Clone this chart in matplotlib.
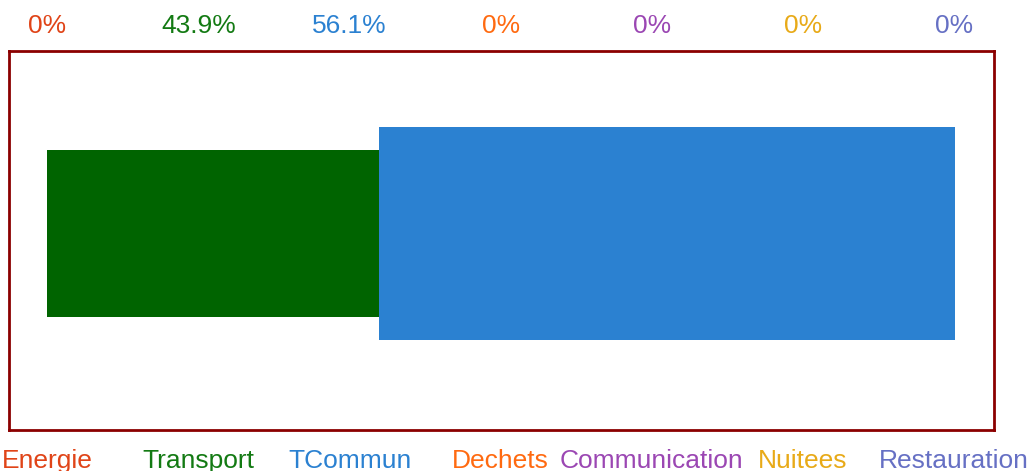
import matplotlib
matplotlib.use("Agg")
import matplotlib.pyplot as plt
import numpy as np

categories = ["Energie", "Transport", "TCommun", "Dechets", "Communication", "Nuitees", "Restauration"]
percent_values = [0, 43.9, 56.1, 0, 0, 0, 0]
percent_labels = ["0%", "43.9%", "56.1%", "0%", "0%", "0%", "0%"]
bar_widths = [0, 36.6, 63.4, 0, 0, 0, 0]
colors = ["#E04418", "#006400", "#2B81D1", "#FF6A10", "#9B47B3", "#E8AA18", "#6670C4"]
text_colors = ["#E04418", "#137A13", "#2B81D1", "#FF6A10", "#9B47B3", "#E8AA18", "#6670C4"]

W, H = 1032, 471
fig = plt.figure(figsize=(W / 100, H / 100), dpi=100)
plt.rcParams['font.family'] = ['Liberation Sans', 'DejaVu Sans']

ax = fig.add_axes([9 / W, 1 - 430 / H, (994 - 9) / W, (430 - 51) / H])
px_per_unit = 908 / 100
left_margin = 38 / px_per_unit
ax.set_xlim(-left_margin, 985 / px_per_unit - left_margin)
ax.set_ylim(0, 100)
center = 100 * (430 - 233.5) / 379

starts = np.concatenate([[0], np.cumsum(bar_widths)[:-1]])
for s, w, p, c in zip(starts, bar_widths, percent_values, colors):
    if w > 0 and p > 0:
        ax.bar(s, p, width=w, bottom=center - p / 2, align='edge', color=c, linewidth=0)

ax.set_xticks([])
ax.set_yticks([])
for sp in ax.spines.values():
    sp.set_color("#8B0000")
    sp.set_linewidth(2)

n = len(categories)
xs = np.linspace(47.5, 954, n)
for i in range(n):
    fig.text(xs[i] / W, 1 - 26 / H, percent_labels[i], ha='center', va='center',
             fontsize=19, color=text_colors[i])
    fig.text(xs[i] / W, 1 - 461 / H, categories[i], ha='center', va='center',
             fontsize=19, color=text_colors[i])

fig.savefig("out.png", dpi=100)
